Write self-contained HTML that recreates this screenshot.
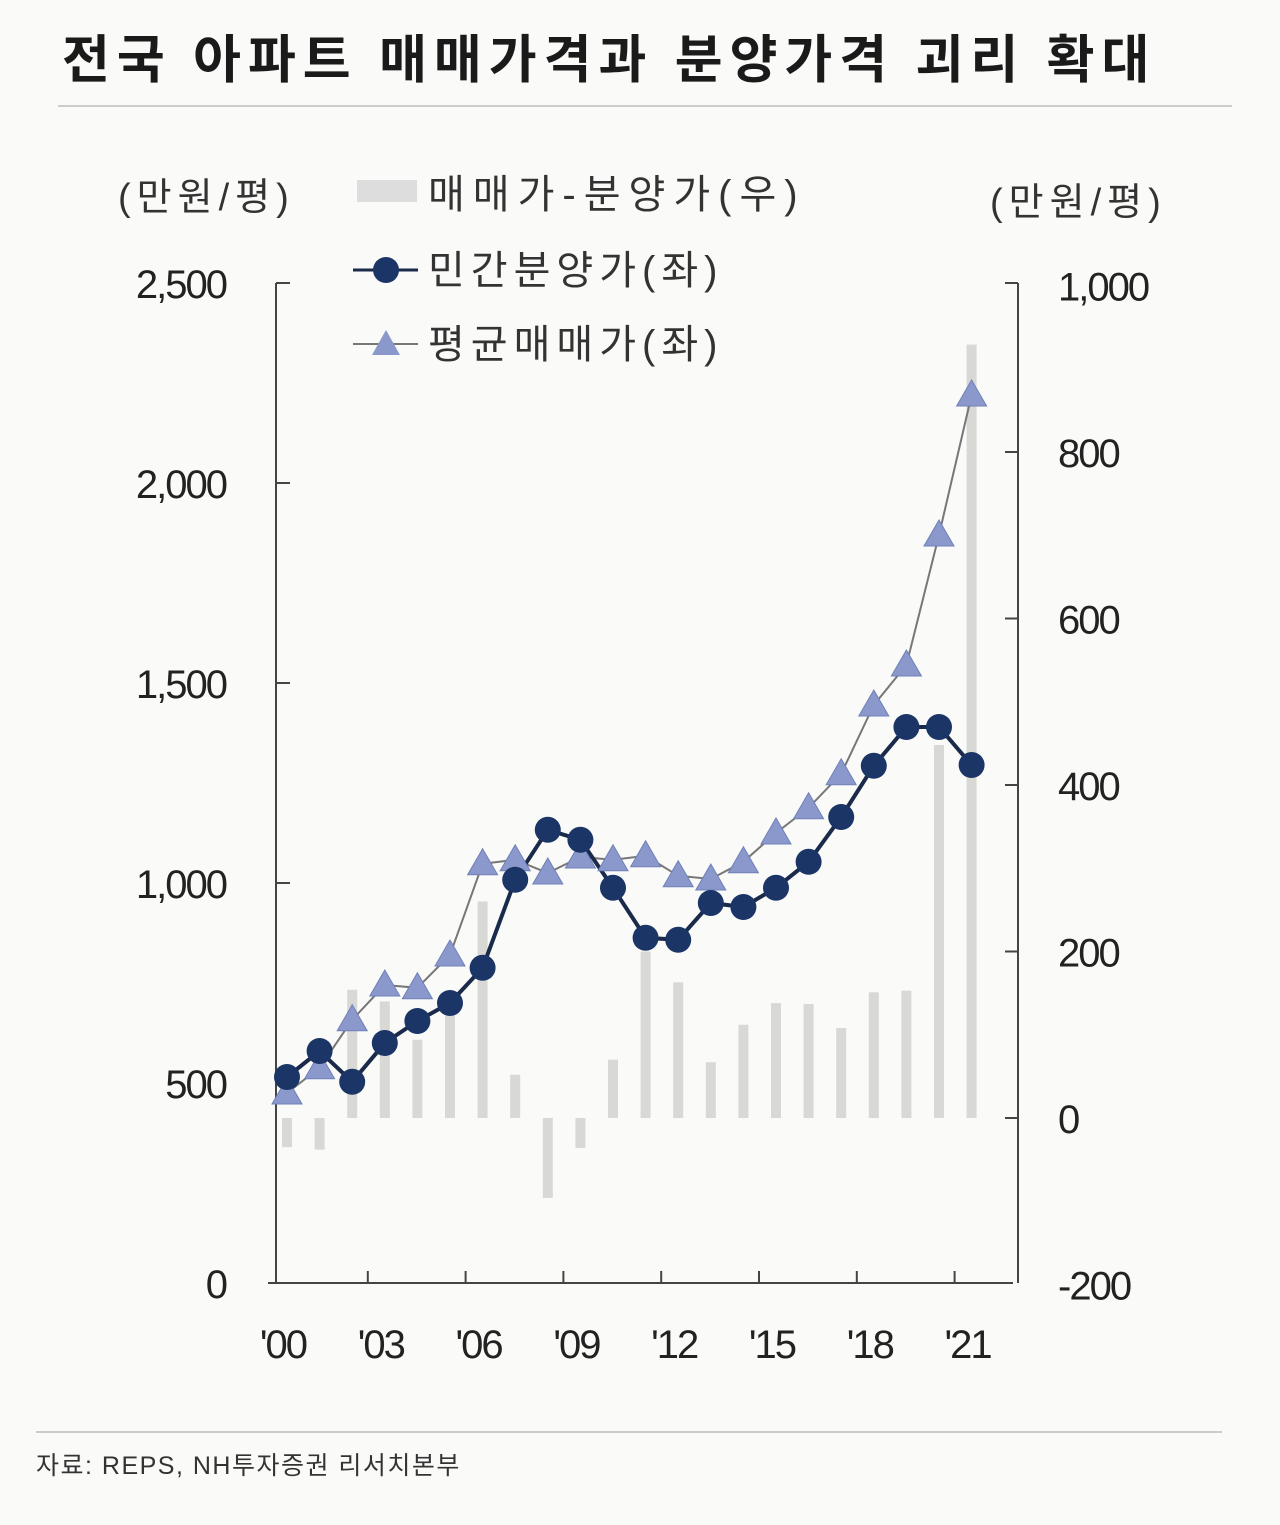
<!DOCTYPE html>
<html><head><meta charset="utf-8">
<style>
html,body{margin:0;padding:0;background:#fafaf8;}
body{width:1280px;height:1520px;overflow:hidden;font-family:"Liberation Sans","Noto Sans CJK KR",sans-serif;}
svg text{font-family:"Liberation Sans","Noto Sans CJK KR",sans-serif;}
</style></head>
<body>
<svg id="chart" width="1280" height="1520" xmlns="http://www.w3.org/2000/svg">
<text x="62" y="78" font-size="52" font-weight="bold" fill="#1a1a1a" letter-spacing="7" font-family="Noto Sans CJK KR, sans-serif">전국 아파트 매매가격과 분양가격 괴리 확대</text>
<line x1="58" y1="106" x2="1232" y2="106" stroke="#ccc" stroke-width="2"/>
<text x="118" y="210" font-size="38" fill="#333" letter-spacing="6">(만원/평)</text>
<text x="990" y="215" font-size="38" fill="#333" letter-spacing="6">(만원/평)</text>
<g>
<rect x="357" y="180" width="60" height="22" fill="#ddd"/>
<text x="428" y="208" font-size="40" fill="#333" letter-spacing="8">매매가-분양가(우)</text>
<line x1="353" y1="270" x2="418" y2="270" stroke="#1a2a4a" stroke-width="3"/>
<circle cx="386" cy="270" r="13" fill="#1b3566"/>
<text x="428" y="284" font-size="40" fill="#333" letter-spacing="6">민간분양가(좌)</text>
<line x1="353" y1="344" x2="418" y2="344" stroke="#777" stroke-width="2"/>
<polygon points="386,330 400,355 372,355" fill="#8a98cc"/>
<text x="428" y="358" font-size="40" fill="#333" letter-spacing="6">평균매매가(좌)</text>
</g>
<g id="plot"></g>
<line x1="36" y1="1432" x2="1222" y2="1432" stroke="#ccc" stroke-width="2"/>
<text x="36" y="1474" font-size="25" fill="#333" letter-spacing="1.5">자료: REPS, NH투자증권 리서치본부</text>
</svg>
<script>
const years=['00','01','02','03','04','05','06','07','08','09','10','11','12','13','14','15','16','17','18','19','20','21'];
const xTickLabels=["'00","'03","'06","'09","'12","'15","'18","'21"];
const leftTicks=[0,500,1000,1500,2000,2500];
const rightTicks=[-200,0,200,400,600,800,1000];
const gapValues=[-35,-38,154,140,94,130,260,52,-96,-36,70,200,163,67,112,138,137,108,151,153,448,929];
const saleValues=[515,580,503,600,655,700,788,1008,1133,1108,988,863,858,950,940,988,1053,1165,1293,1390,1390,1295];
const avgValues=[475,538,658,745,738,820,1048,1058,1025,1065,1058,1068,1018,1010,1053,1125,1188,1273,1445,1545,1870,2220];

const NS='http://www.w3.org/2000/svg';
const g=document.getElementById('plot');
const X0=268,X1=1013,TOP=283,BOT=1283;
const x=i=>287+i*32.6;
const yL=v=>BOT-(v/2500)*(BOT-TOP);
const yR=v=>1118-v*0.8325;
function mk(tag,attrs){const e=document.createElementNS(NS,tag);for(const k in attrs)e.setAttribute(k,attrs[k]);g.appendChild(e);return e;}

gapValues.forEach((v,i)=>{
  const y0=yR(0),y1=yR(v);
  const r=mk('rect',{x:x(i)-5,y:Math.min(y0,y1),width:10,height:Math.abs(y1-y0),fill:'#d8d8d4'});
  
  
});
let a=mk('path',{d:`M${X0+8} ${TOP} H${X0+22} M${X0+8} ${TOP} V${BOT} M${X0} ${BOT} H${X1} M${X1+5} ${TOP} H${X1-8} M${X1+5} ${TOP} V${BOT}`,stroke:'#444','stroke-width':2,fill:'none'});


leftTicks.forEach(v=>{
  const t=mk('text',{x:226,y:yL(v)+15,'font-size':40,'text-anchor':'end',fill:'#222','letter-spacing':'-2'});
  t.textContent=v.toLocaleString('en-US');
  
  
  if(v>0&&v<2500){const l=mk('line',{x1:X0+8,x2:X0+22,y1:yL(v),y2:yL(v),stroke:'#444','stroke-width':2});}
});
rightTicks.forEach(v=>{
  const t=mk('text',{x:1058,y:yR(v)+15,'font-size':40,fill:'#222','letter-spacing':'-2'});
  t.textContent=v.toLocaleString('en-US');
  
  
  if(v>-200&&v<1000){const l=mk('line',{x1:X1-8,x2:X1+5,y1:yR(v),y2:yR(v),stroke:'#444','stroke-width':2});}
});
xTickLabels.forEach((s,k)=>{
  const i=k*3;
  const t=mk('text',{x:x(i)-4,y:1358,'font-size':40,'text-anchor':'middle',fill:'#222','letter-spacing':'-2'});
  t.textContent=s;
  
  
  if(k>0){const l=mk('line',{x1:x(i)-17,x2:x(i)-17,y1:BOT-12,y2:BOT,stroke:'#444','stroke-width':2});}
});
let p=mk('polyline',{points:avgValues.map((v,i)=>x(i)+','+yL(v)).join(' '),fill:'none',stroke:'#777','stroke-width':2});


let q=mk('polyline',{points:saleValues.map((v,i)=>x(i)+','+yL(v)).join(' '),fill:'none',stroke:'#1a2a4a','stroke-width':4});


avgValues.forEach((v,i)=>{
  const cx=x(i),cy=yL(v);
  const t=mk('polygon',{points:`${cx},${cy-15} ${cx+15},${cy+11} ${cx-15},${cy+11}`,fill:'#8a98cc',stroke:'#7080b8','stroke-width':1});
  
  
});
saleValues.forEach((v,i)=>{
  const c=mk('circle',{cx:x(i),cy:yL(v),r:13,fill:'#1b3566'});
  
  
});
</script>
</body></html>
